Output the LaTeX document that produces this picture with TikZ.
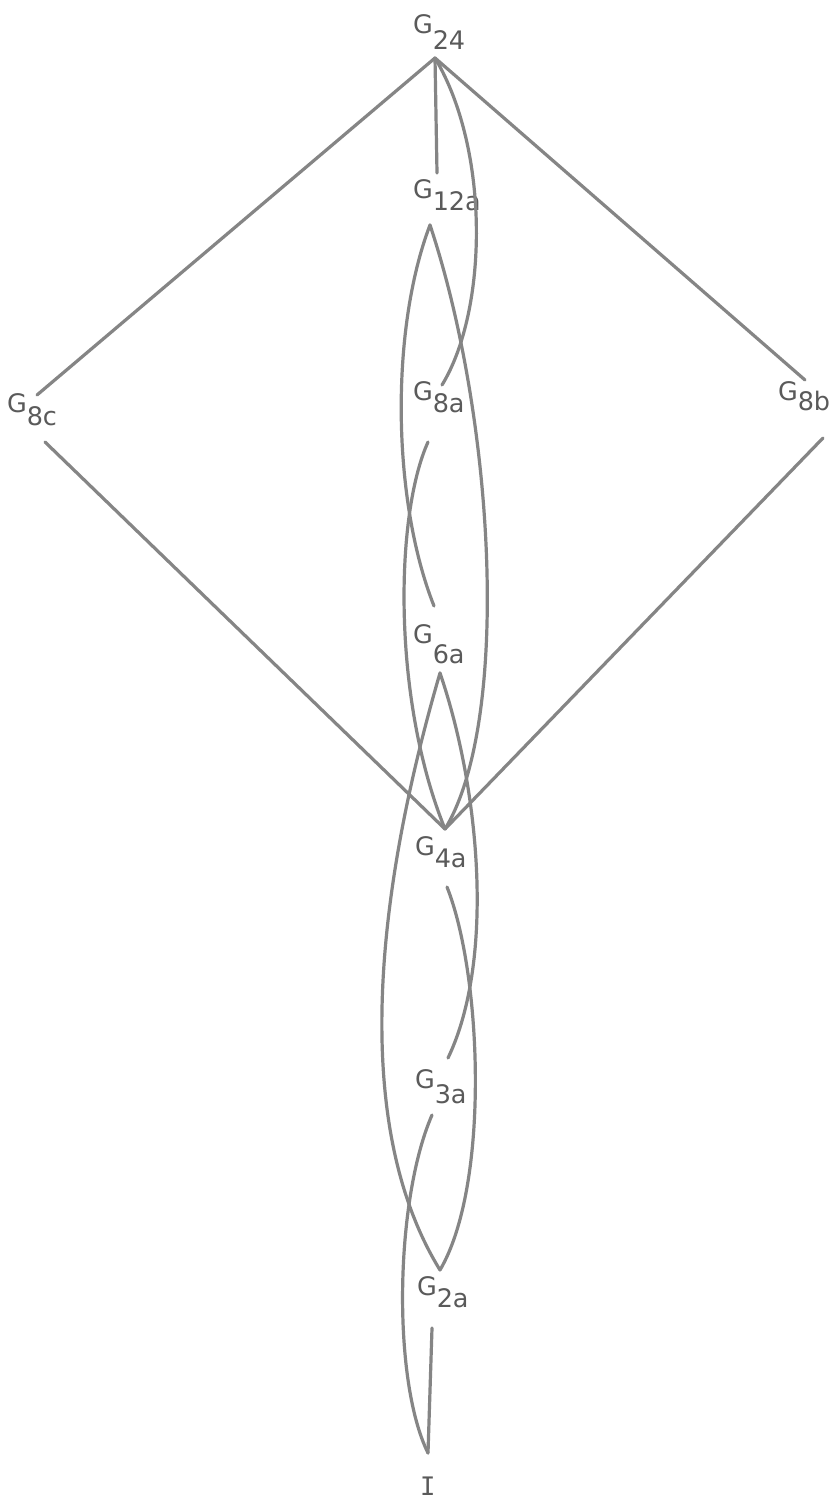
\documentclass[tikz,border=0pt]{standalone}
\usepackage{fontspec}
\setmainfont{DejaVu Sans}
\newfontfamily\monofam{DejaVu Sans Mono}
\usetikzlibrary{calc}
\definecolor{edgegray}{HTML}{858585}
\definecolor{textgray}{HTML}{5A5A5A}
\newcommand\glab[2]{G\raisebox{-#2pt}{#1}}
\tikzset{
  edge/.style={draw=edgegray, line width=3.2pt, line cap=round, line join=round},
  lbl/.style={anchor=base west, inner sep=0pt, outer sep=0pt, text=textgray, font=\fontsize{25.5}{25.5}\selectfont}
}
\begin{document}
\begin{tikzpicture}[x=1pt,y=-1pt]
\useasboundingbox[fill=white] (0,0) rectangle (839,1499);
% labels
\node[lbl] (G24)  at (413,33)   {\glab{24}{17}};
\node[lbl] (G12a) at (413,198)  {\glab{12a}{12}};
\node[lbl] (G8c)  at (7,412)    {\glab{8c}{13}};
\node[lbl] (G8b)  at (778,400)  {\glab{8b}{10}};
\node[lbl] (G8a)  at (413,400)  {\glab{8a}{12}};
\node[lbl] (G6a)  at (413,643)  {\glab{6a}{20}};
\node[lbl] (G4a)  at (415,855)  {\glab{4a}{12}};
\node[lbl] (G3a)  at (415,1088) {\glab{3a}{15}};
\node[lbl] (G2a)  at (417,1295) {\glab{2a}{12}};
\node[lbl] (I)    at (420,1495) {\monofam I};
% connection points
\coordinate (g24b) at (435,58);
\coordinate (g12t) at (437,173);
\coordinate (g12b) at (430,225);
\coordinate (g8ct) at (37,395);
\coordinate (g8cb) at (45,442);
\coordinate (g8bt) at (805,380);
\coordinate (g8bb) at (823,438);
\coordinate (g8at) at (442,385);
\coordinate (g8ab) at (428,442);
\coordinate (g6at) at (434,606);
\coordinate (g6ab) at (440,673);
\coordinate (g4at) at (445,829);
\coordinate (g4ab) at (447,887);
\coordinate (g3at) at (448,1058);
\coordinate (g3ab) at (432,1115);
\coordinate (g2at) at (440,1270);
\coordinate (g2ab) at (432,1328);
\coordinate (it)   at (428,1453);
% straight edges
\draw[edge] (g24b) -- (g12t);
\draw[edge] (g24b) -- (g8ct);
\draw[edge] (g24b) -- (g8bt);
\draw[edge] (g8cb) -- (g4at);
\draw[edge] (g8bb) -- (g4at);
\draw[edge] (g2ab) -- (it);
% curved edges
\draw[edge] (g24b) .. controls +(55,92) and +(46,-75) .. (g8at);
\draw[edge] (g12b) .. controls +(65,195) and +(66,-108) .. (g4at);
\draw[edge] (g12b) .. controls +(-40,105) and +(-42,-106) .. (g6at);
\draw[edge] (g8ab) .. controls +(-33,73) and +(-53,-130) .. (g4at);
\draw[edge] (g6ab) .. controls +(40,117) and +(47,-98) .. (g3at);
\draw[edge] (g6ab) .. controls +(-75,257) and +(-80,-130) .. (g2at);
\draw[edge] (g4ab) .. controls +(35,88) and +(50,-85) .. (g2at);
\draw[edge] (g3ab) .. controls +(-37,85) and +(-36,-73) .. (it);
\end{tikzpicture}
\end{document}
